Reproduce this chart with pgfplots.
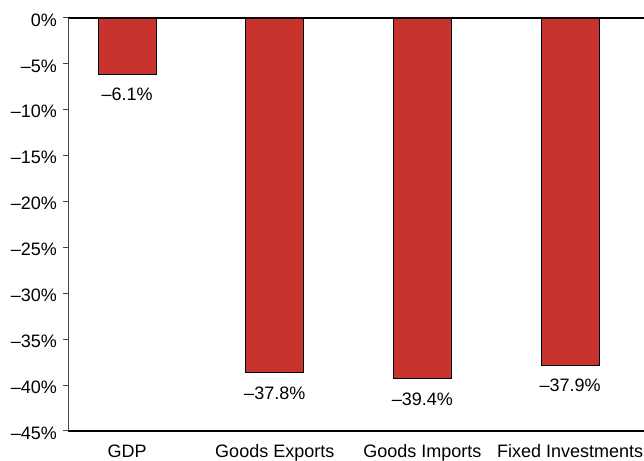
\documentclass[border=0pt]{standalone}
\usepackage{fontspec}
\setmainfont{Liberation Sans}
\usepackage{pgfplots}
\pgfplotsset{compat=1.18}
\definecolor{barred}{HTML}{C8332E}
\definecolor{spine}{HTML}{444444}
\begin{document}
\fontsize{18bp}{21bp}\selectfont
\begin{tikzpicture}[x=1bp,y=1bp]
\useasboundingbox (0,0) rectangle (644,461);
\begin{axis}[
    at={(68bp,30bp)}, anchor=south west,
    scale only axis,
    width=576bp, height=413bp,
    xmin=-0.4, xmax=3.5,
    ymin=-45, ymax=0,
    axis x line*=box,
    axis y line*=left,
    x axis line style={black, line width=1.2bp, -},
    y axis line style={spine, line width=1bp, -},
    xtick={0,1,2,3},
    xticklabels={GDP, Goods Exports, Goods Imports, Fixed Investments},
    x tick style={draw=none},
    xticklabel style={anchor=north, inner sep=0pt, yshift=-8bp, text height=13bp, text depth=4bp},
    ytick={-45,-40,...,0},
    yticklabels={\textendash45\%,\textendash40\%,\textendash35\%,\textendash30\%,\textendash25\%,\textendash20\%,\textendash15\%,\textendash10\%,\textendash5\%,0\%},
    yticklabel style={yshift=-2bp},
    y tick style={spine, line width=1bp},
    tick align=outside,
    major tick length=5bp,
    ytick pos=left,
    ybar, bar width=58bp, bar shift=0pt,
    point meta=explicit symbolic,
    nodes near coords,
    nodes near coords align=center,
    every node near coord/.append style={anchor=north, inner sep=0pt, yshift=-13.5bp, text height=13bp, text depth=4bp},
]
\addplot[fill=barred, draw=black, line width=0.8bp] coordinates {
    (0,-6.1)  [\textendash6.1\%]
    (1,-38.6) [\textendash37.8\%]
    (2,-39.3) [\textendash39.4\%]
    (3,-37.8) [\textendash37.9\%]
};
\end{axis}
\end{tikzpicture}
\end{document}
